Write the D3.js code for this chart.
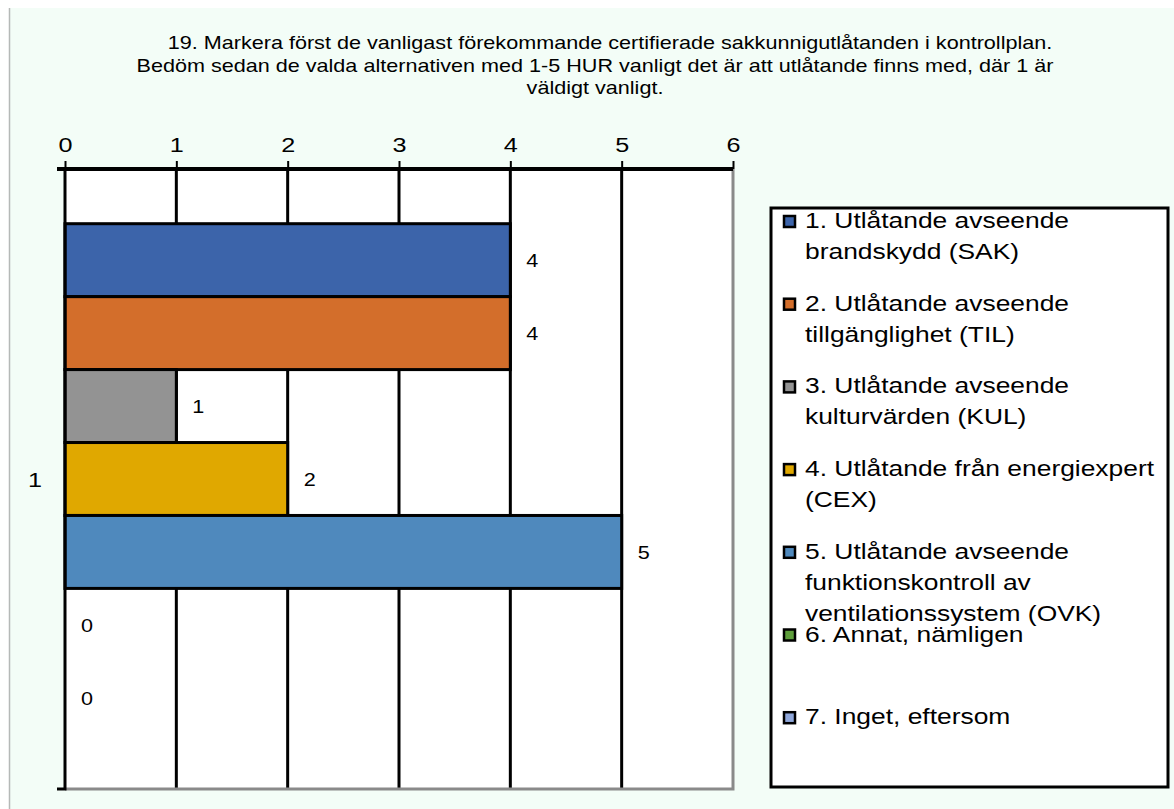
<!DOCTYPE html>
<html>
<head>
<meta charset="utf-8">
<script src="https://cdn.jsdelivr.net/npm/d3@7"></script>
<style>
  body { margin: 0; background: #fff; }
  svg { display: block; font-family: "Liberation Sans", Arial, sans-serif; }
</style>
</head>
<body>
<svg id="chart" width="1174" height="809"></svg>
<script>
// chart data
var titleLines = [
    "19. Markera först de vanligast förekommande certifierade sakkunnigutlåtanden i kontrollplan.",
    "Bedöm sedan de valda alternativen  med 1-5 HUR vanligt det är att utlåtande finns med, där 1 är",
    "väldigt vanligt."
];
var categories = ["1"];
var seriesNames = [
    ["1. Utlåtande avseende", "brandskydd (SAK)"],
    ["2. Utlåtande avseende", "tillgänglighet (TIL)"],
    ["3. Utlåtande avseende", "kulturvärden (KUL)"],
    ["4. Utlåtande från energiexpert", "(CEX)"],
    ["5. Utlåtande avseende", "funktionskontroll av", "ventilationssystem (OVK)"],
    ["6. Annat, nämligen"],
    ["7. Inget, eftersom"]
];
var seriesValues = [4, 4, 1, 2, 5, 0, 0];
var seriesColors = ["#3c64aa", "#d36e2b", "#939393", "#e0a800", "#4f89bd", "#5e9e3b", "#8fa7da"];
var xTicks = [0, 1, 2, 3, 4, 5, 6];

// the source picture is stretched sideways a little
var stretch = 1.2;

var series = seriesValues.map(function(v, i) {
    return { index: i, value: v, color: seriesColors[i], name: seriesNames[i] };
});

var svg = d3.select("#chart");

// Background panel
svg.append("rect")
    .attr("x", 9).attr("y", 8)
    .attr("width", 1165).attr("height", 801)
    .attr("fill", "#f3fdf7");
svg.append("line")
    .attr("x1", 9.5).attr("x2", 9.5)
    .attr("y1", 8).attr("y2", 809)
    .attr("stroke", "#b5b9b7").attr("stroke-width", 1.5);

// Title
svg.append("g").selectAll("text")
    .data(titleLines)
    .enter().append("text")
    .attr("transform", function(d, i) {
        return "translate(" + (i === 0 ? 610 : 595) + "," + (49 + i * 22.5) + ") scale(" + stretch + ",1)";
    })
    .attr("text-anchor", "middle")
    .attr("font-size", 18)
    .attr("fill", "#000")
    .text(function(d) { return d; });

// Plot area
var plotLeft = 65, plotRight = 733, plotTop = 169, plotBottom = 789;
var x = d3.scaleLinear().domain([0, 6]).range([plotLeft, plotRight]);
var y = d3.scaleBand()
    .domain(series.map(function(d) { return d.index; }))
    .range([plotTop, plotBottom])
    .paddingInner(0)
    .paddingOuter(0.75);

svg.append("rect")
    .attr("x", plotLeft).attr("y", plotTop)
    .attr("width", plotRight - plotLeft).attr("height", plotBottom - plotTop)
    .attr("fill", "#fff");

// gridlines
svg.append("g").selectAll("line")
    .data(xTicks.slice(1, -1))
    .enter().append("line")
    .attr("x1", function(d) { return x(d); })
    .attr("x2", function(d) { return x(d); })
    .attr("y1", plotTop).attr("y2", plotBottom)
    .attr("stroke", "#000").attr("stroke-width", 3);

// right and bottom border (grey)
svg.append("path")
    .attr("d", "M" + plotRight + "," + plotTop + "V" + plotBottom + "H" + plotLeft)
    .attr("fill", "none")
    .attr("stroke", "#8a8a8a").attr("stroke-width", 3);

// bars
svg.append("g").selectAll("rect")
    .data(series.filter(function(d) { return d.value > 0; }))
    .enter().append("rect")
    .attr("x", x(0))
    .attr("y", function(d) { return y(d.index); })
    .attr("width", function(d) { return x(d.value) - x(0); })
    .attr("height", y.bandwidth())
    .attr("fill", function(d) { return d.color; })
    .attr("stroke", "#000").attr("stroke-width", 3);

// value labels
svg.append("g").selectAll("text")
    .data(series)
    .enter().append("text")
    .attr("transform", function(d) {
        return "translate(" + (x(d.value) + 16) + "," + (y(d.index) + y.bandwidth() / 2 + 7) + ") scale(" + stretch + ",1)";
    })
    .attr("font-size", 18)
    .attr("fill", "#000")
    .text(function(d) { return d.value; });

// left axis line with bottom tick
svg.append("path")
    .attr("d", "M" + plotLeft + "," + plotTop + "V" + plotBottom + "H" + (plotLeft - 8))
    .attr("fill", "none")
    .attr("stroke", "#000").attr("stroke-width", 3);

// top axis
var axis = d3.axisTop(x).tickValues(xTicks).tickSize(8).tickPadding(9)
    .tickFormat(d3.format("d"));
var gAxis = svg.append("g")
    .attr("transform", "translate(0," + plotTop + ")")
    .call(axis);
gAxis.attr("font-size", null).attr("font-family", null);
gAxis.select(".domain")
    .attr("d", "M" + (plotLeft - 8) + ",0H" + plotRight)
    .attr("stroke", "#000").attr("stroke-width", 4);
gAxis.selectAll(".tick line").attr("stroke", "#000").attr("stroke-width", 2);
gAxis.selectAll(".tick text")
    .attr("transform", "scale(" + stretch + ",1)")
    .style("font-size", "21px")
    .attr("fill", "#000");

// category label
svg.append("text")
    .attr("transform", "translate(35," + ((plotTop + plotBottom) / 2 + 8) + ") scale(" + stretch + ",1)")
    .attr("text-anchor", "middle")
    .attr("font-size", 21)
    .text(categories[0]);

// Legend
var legX = 771, legY = 208, legW = 397, legH = 579;
svg.append("rect")
    .attr("x", legX).attr("y", legY)
    .attr("width", legW).attr("height", legH)
    .attr("fill", "#fff")
    .attr("stroke", "#000").attr("stroke-width", 3);

svg.append("clipPath").attr("id", "legclip")
    .append("rect")
    .attr("x", legX + 1.5).attr("y", legY + 1.5)
    .attr("width", legW - 3).attr("height", legH - 3);

var legend = svg.append("g").attr("clip-path", "url(#legclip)");
var items = legend.selectAll("g")
    .data(series)
    .enter().append("g")
    .attr("transform", function(d) { return "translate(" + legX + "," + (228 + d.index * 82.7) + ")"; });

items.append("rect")
    .attr("x", 13).attr("y", -12)
    .attr("width", 11).attr("height", 11)
    .attr("fill", function(d) { return d.color; })
    .attr("stroke", "#000").attr("stroke-width", 2.5);

items.append("text")
    .attr("transform", "translate(34,0) scale(" + stretch + ",1)")
    .attr("font-size", 22)
    .attr("fill", "#000")
    .selectAll("tspan")
    .data(function(d) { return d.name; })
    .enter().append("tspan")
    .attr("x", 0)
    .attr("y", function(d, j) { return j * 31; })
    .text(function(d) { return d; });
</script>
</body>
</html>
